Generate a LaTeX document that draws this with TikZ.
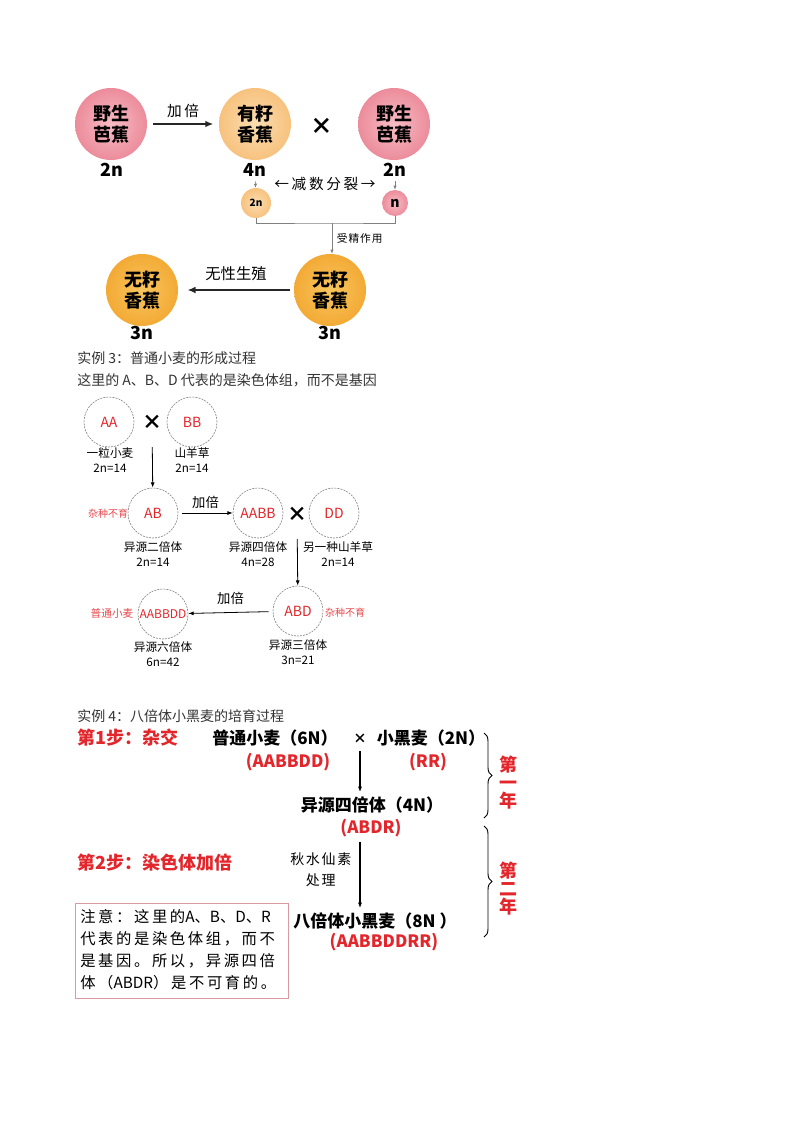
\documentclass[tikz,border=0pt]{standalone}
\usepackage{fontspec}
\setmainfont{Noto Sans CJK SC}
\newfontfamily\notelatin{Noto Sans CJK SC}
\usetikzlibrary{positioning,arrows.meta,decorations.pathreplacing}
\definecolor{wildpink}{HTML}{EC8C9B}
\definecolor{wildpinkl}{HTML}{F7BCC4}
\definecolor{seedpeach}{HTML}{F7C27E}
\definecolor{seedpeachl}{HTML}{FBDDB2}
\definecolor{seedless}{HTML}{F3AA35}
\definecolor{seedlessl}{HTML}{F8C55E}
\definecolor{genred}{HTML}{E3262B}
\definecolor{notepink}{HTML}{D99AA2}
\newcommand{\lat}[1]{{\notelatin #1}}

\begin{document}
\begin{tikzpicture}[x=0.75pt,y=-0.75pt,
  ball/.style={circle,minimum size=54pt,inner sep=0pt,align=center,
    font=\bfseries\fontsize{13.5}{15.5}\selectfont},
  wild/.style={ball,inner color=wildpinkl,outer color=wildpink},
  seedy/.style={ball,inner color=seedpeachl,outer color=seedpeach},
  seedless/.style={ball,inner color=seedlessl,outer color=seedless},
  ploidy/.style={font=\bfseries\fontsize{13.5}{15}\selectfont},
  gamete/.style={circle,inner sep=0pt,font=\bfseries\fontsize{7.5}{8}\selectfont},
  spaced/.style={font=\fontsize{11}{13}\selectfont\addfontfeatures{LetterSpace=18}},
  tiny/.style={font=\fontsize{8}{9}\selectfont\addfontfeatures{LetterSpace=10}},
  fatarrow/.style={-{Latex[length=6pt,width=5pt]},line width=1.4pt,draw=black!85},
  thinarrow/.style={-{Latex[length=3pt,width=2.5pt]},line width=0.5pt,draw=gray},
  heading/.style={anchor=west,inner sep=0pt,font=\fontsize{10.5}{12}\selectfont,text=black!80},
  genome/.style={circle,draw=gray,dash pattern=on 1.5pt off 0.8pt,line width=0.45pt,
    minimum size=37.5pt,inner sep=0pt,text=genred,font=\fontsize{10.5}{12}\selectfont},
  plant/.style={align=center,inner sep=0pt,font=\fontsize{8.75}{11}\selectfont},
  sterile/.style={text=genred!85,font=\fontsize{7.5}{8}\selectfont},
  crossmark/.style={font=\bfseries\fontsize{15}{15}\selectfont},
  wheatarrow/.style={-{Latex[length=4pt,width=3pt]},line width=0.6pt},
  stepname/.style={anchor=west,inner sep=0pt,text=genred,font=\bfseries\fontsize{13.5}{15}\selectfont},
  cross/.style={font=\bfseries\fontsize{12.75}{15}\selectfont},
  genes/.style={text=genred,font=\bfseries\fontsize{12.75}{15}\selectfont},
  year/.style={text=genred,align=center,font=\bfseries\fontsize{13.5}{13.5}\selectfont},
  yearbrace/.style={decorate,decoration={brace,amplitude=6pt},line width=0.7pt}]
\useasboundingbox (0,0) rectangle (800,1132);

% bananas
\node (wilda) [wild] at (111,124) {野生\\芭蕉};
\node (wildan) [ploidy] at (112,170) {2n};
\node (seeded) [seedy] at (255,124) {有籽\\香蕉};
\node (seededn) [ploidy] at (255,170) {4n};
\node (crossa) [font=\bfseries\fontsize{17}{17}\selectfont] at (322,126) {×};
\node (wildb) [wild] at (394,124) {野生\\芭蕉};
\node (wildbn) [ploidy] at (395,170) {2n};
\draw [fatarrow,shorten <=4.5pt,shorten >=4pt] (wilda) -- node[above=1pt,spaced] {加倍} (seeded);

\node (gama) [gamete,minimum size=22.5pt,inner color=seedpeachl,outer color=seedpeach] at (256,203) {2n};
\node (gamb) [gamete,minimum size=19.5pt,inner color=wildpinkl,outer color=wildpink,
  font=\bfseries\fontsize{10.5}{11}\selectfont] at (395,203) {n};
\draw [thinarrow] (seededn) -- (gama);
\draw [thinarrow] (wildbn) -- (gamb);
\node (meio) [spaced] at (325,184) {←减数分裂→};
\coordinate (fuse) at (332,223);
\draw [gray,line width=0.5pt] (gama) |- (fuse) -| (gamb);

\node (seedlessb) [seedless] at (330,290) {无籽\\香蕉};
\node (seedlessbn) [ploidy] at (330,333) {3n};
\node (seedlessa) [seedless] at (142,290) {无籽\\香蕉};
\node (seedlessan) [ploidy] at (142,333) {3n};
\draw [thinarrow] (fuse) -- node[right,tiny] {受精作用} (fuse |- seedlessb.north);
\draw [fatarrow,line width=1pt,shorten <=3pt,shorten >=7pt] (seedlessb) -- node[above=3pt,spaced,font=\fontsize{11.5}{13}\selectfont] {无性生殖} (seedlessa);

% common wheat
\node (title3) [heading] at (77,358) {实例 3：普通小麦的形成过程};
\node (hint3) [heading] at (77,380) {这里的 A、B、D 代表的是染色体组，而不是基因};

\node (aa) [genome] at (109,422) {AA};
\node (crossb) [crossmark] at (152,422) {×};
\node (bb) [genome] at (192,422) {BB};
\node (aaname) [plant] at (110,460) {一粒小麦\\2n=14};
\node (bbname) [plant] at (192,460) {山羊草\\2n=14};

\node (ab) [genome] at (153,513) {AB};
\node (abster) [sterile] at (108,514) {杂种不育};
\draw [wheatarrow,shorten <=10pt] (crossb) -- (ab);
\node (aabb) [genome] at (258,513) {AABB};
\node (crossc) [crossmark] at (297,514) {×};
\node (dd) [genome] at (334,513) {DD};
\draw [wheatarrow,shorten <=3pt,shorten >=0pt] (ab) -- node[above,font=\fontsize{10}{11}\selectfont] {加倍} (aabb);
\node (abname) [plant] at (153,554) {异源二倍体\\2n=14};
\node (aabbname) [plant] at (258,554) {异源四倍体\\4n=28};
\node (ddname) [plant] at (338,554) {另一种山羊草\\2n=14};

\node (abd) [genome] at (298,611) {ABD};
\node (abdster) [sterile] at (345,613) {杂种不育};
\draw [wheatarrow,shorten <=10pt] (crossc) -- (abd);
\node (aabbdd) [genome,font=\fontsize{9}{10}\selectfont] at (163,614) {AABBDD};
\node (common) [sterile,font=\fontsize{8}{9}\selectfont] at (112,613) {普通小麦};
\draw [wheatarrow,shorten <=3pt] (abd) -- node[above=2pt,font=\fontsize{10}{11}\selectfont] {加倍} (aabbdd);
\node (abdname) [plant] at (298,652) {异源三倍体\\3n=21};
\node (aabbddname) [plant] at (163,654) {异源六倍体\\6n=42};

% triticale
\node (title4) [heading] at (77,716) {实例 4：八倍体小黑麦的培育过程};
\node (stepa) [stepname] at (77,738) {第1步：杂交};
\node (wheat) [cross] at (275,738) {普通小麦（6N）};
\node (crossd) [font=\bfseries\fontsize{10}{10}\selectfont] at (360,739) {×};
\node (rye) [cross] at (431,738) {小黑麦（2N）};
\node (wheatg) [genes] at (288,762) {(AABBDD)};
\node (ryeg) [genes] at (428,762) {(RR)};
\node (hybrid) [cross] at (372,805) {异源四倍体（4N）};
\node (hybridg) [genes] at (371,828) {(ABDR)};
\draw [wheatarrow,line width=0.8pt,shorten <=2pt] (crossd) -- (crossd |- hybrid.north);

\node (stepb) [stepname] at (77,863) {第2步：染色体加倍};
\node (octo) [cross] at (375,921) {八倍体小黑麦（8N ）};
\node (octog) [genes] at (384,942) {(AABBDDRR)};
\node (colch) [align=center,font=\fontsize{10.5}{15.5}\selectfont\addfontfeatures{LetterSpace=12},anchor=east] at (356,870) {秋水仙素\\处理};
\draw [wheatarrow,line width=0.8pt] (crossd |- hybridg.south) -- (crossd |- octo.north);

\coordinate (yearat) at (484,733);
\coordinate (yearab) at (484,818);
\coordinate (yearbt) at (484,826);
\coordinate (yearbb) at (484,937);
\draw [yearbrace] (yearat) -- (yearab);
\draw [yearbrace] (yearbt) -- (yearbb);
\node (yeara) [year] at (508,783) {第\\一\\年};
\node (yearb) [year] at (508,889) {第\\二\\年};

\node (caution) [draw=notepink,line width=1pt,minimum width=159.75pt,minimum height=71.25pt,
  anchor=north west,inner sep=0pt] at (75,903) {};
\node (cautiontext) [anchor=north west,align=left,inner sep=0pt,
  font=\fontsize{11.5}{16.5}\selectfont\addfontfeatures{LetterSpace=17}] at (80,909)
  {注意：这里的\lat{A}、\lat{B}、\lat{D}、\lat{R}\\代表的是染色体组，而不\\是基因。所以，异源四倍\\体（\lat{ABDR}）是不可育的。};
\end{tikzpicture}
\end{document}
